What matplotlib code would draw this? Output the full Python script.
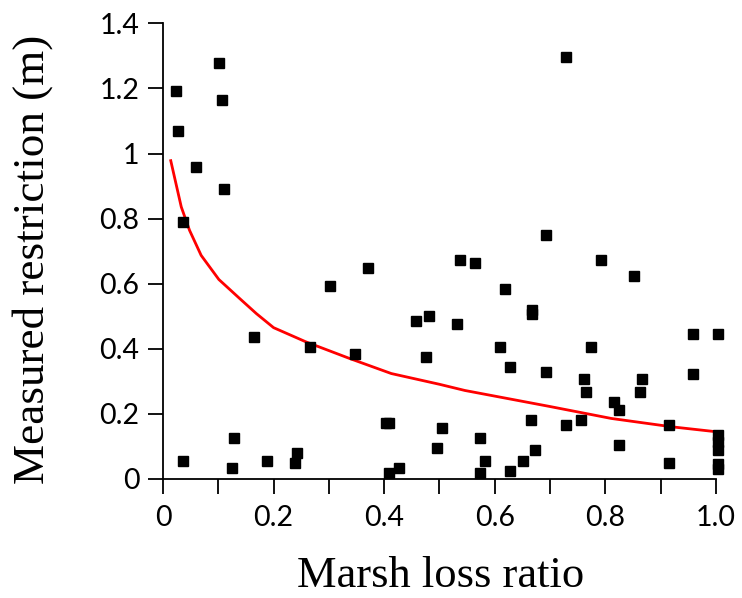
import matplotlib.pyplot as plt
from matplotlib.ticker import MultipleLocator

# marsh loss ratio vs measured restriction
loss_ratio = [0.101, 0.024, 0.106, 0.028, 0.060, 0.110, 0.037, 0.729, 0.692,
              0.371, 0.302, 0.458, 0.481, 0.165, 0.266, 0.348, 0.476, 0.403,
              0.408, 0.504, 0.128, 0.495, 0.037, 0.188, 0.243, 0.238, 0.124,
              0.408, 0.426, 0.537, 0.564, 0.793, 0.852, 0.619, 0.667, 0.667,
              0.532, 0.958, 1.004, 0.609, 0.775, 0.627, 0.692, 0.958, 0.761,
              0.866, 0.765, 0.862, 0.816, 0.825, 0.665, 0.729, 0.756, 0.916,
              1.004, 1.004, 1.004, 0.573, 0.825, 0.673, 0.582, 0.651, 0.916,
              1.004, 1.004, 0.573, 0.627]
restriction = [1.279, 1.193, 1.163, 1.068, 0.960, 0.890, 0.789, 1.295, 0.750,
               0.648, 0.594, 0.485, 0.501, 0.437, 0.407, 0.383, 0.376, 0.173,
               0.173, 0.158, 0.127, 0.095, 0.056, 0.056, 0.081, 0.049, 0.033,
               0.018, 0.033, 0.672, 0.664, 0.672, 0.625, 0.585, 0.520, 0.507,
               0.477, 0.445, 0.445, 0.407, 0.407, 0.345, 0.329, 0.322, 0.306,
               0.306, 0.266, 0.266, 0.236, 0.212, 0.181, 0.166, 0.181, 0.166,
               0.135, 0.114, 0.090, 0.127, 0.104, 0.088, 0.056, 0.056, 0.049,
               0.045, 0.030, 0.018, 0.026]

# fitted curve
fit_x = [0.014, 0.033, 0.048, 0.069, 0.101, 0.139, 0.169, 0.200, 0.259, 0.338,
         0.413, 0.500, 0.546, 0.699, 0.811, 0.922, 1.007]
fit_y = [0.978, 0.836, 0.764, 0.687, 0.613, 0.554, 0.508, 0.465, 0.421, 0.370,
         0.324, 0.291, 0.272, 0.223, 0.186, 0.160, 0.144]

xticks = [0, 0.2, 0.4, 0.6, 0.8, 1.0]
xticklabels = ['0', '0.2', '0.4', '0.6', '0.8', '1.0']
yticks = [0, 0.2, 0.4, 0.6, 0.8, 1.0, 1.2, 1.4]
yticklabels = ['0', '0.2', '0.4', '0.6', '0.8', '1', '1.2', '1.4']

fig = plt.figure(figsize=(7.42, 5.98), dpi=100)
ax = fig.add_axes([0.2197, 0.199, 0.745, 0.762])

ax.plot(fit_x, fit_y, color='red', lw=2, zorder=2, clip_on=False)
ax.plot(loss_ratio, restriction, 's', color='black', ms=7, zorder=3,
        clip_on=False)

ax.set_xlim(0, 1.0)
ax.set_ylim(0, 1.4)
ax.set_xticks(xticks)
ax.set_xticklabels(xticklabels)
ax.xaxis.set_minor_locator(MultipleLocator(0.1))
ax.set_yticks(yticks)
ax.set_yticklabels(yticklabels)

for s in ['top', 'right']:
    ax.spines[s].set_visible(False)
for s in ['left', 'bottom']:
    ax.spines[s].set_linewidth(1.3)

ax.tick_params(which='both', direction='out', length=11, width=1.3,
               labelsize=20.5)
ax.tick_params(axis='x', pad=8)
ax.tick_params(axis='y', pad=6)
for lab in ax.get_xticklabels() + ax.get_yticklabels():
    lab.set_family('Lato')

# axis titles placed to match the original layout
fig.text(0.594, 0.004, 'Marsh loss ratio', fontsize=32,
         family='Liberation Serif', ha='center', va='bottom')
fig.text(33 / 742, 1 - 259 / 598, 'Measured restriction (m)', fontsize=32.5,
         family='Liberation Serif', rotation=90, ha='center', va='center')

fig.savefig('out.png', dpi=100)
